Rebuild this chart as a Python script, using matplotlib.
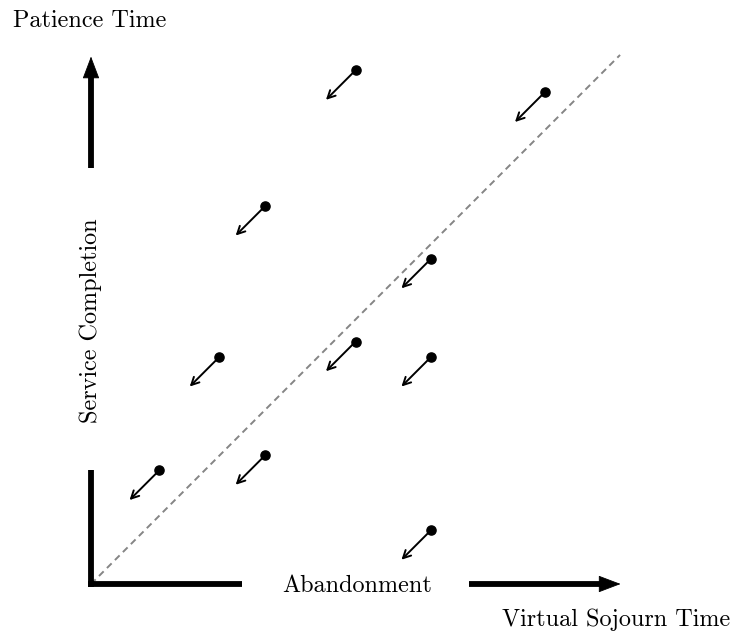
import numpy as np
import matplotlib
matplotlib.use("Agg")
import matplotlib.pyplot as plt

plt.rcParams['font.family'] = ['cmr10', 'DejaVu Serif']
plt.rcParams['axes.formatter.use_mathtext'] = True

# customer states (virtual sojourn time, patience time)
sojourn = [5.01, 8.59, 3.30, 6.44, 2.43, 5.01, 6.44, 1.29, 3.30, 6.44]
patience = [9.73, 9.31, 7.16, 6.16, 4.30, 4.59, 4.30, 2.15, 2.44, 1.02]
step = 0.56  # both times drift down at unit rate

fs = 17.4
unit = 52.8  # px per data unit
W, H = 740, 635
ox, oy = 91, 584

fig = plt.figure(figsize=(W / 100, H / 100), dpi=100)
ax = fig.add_axes([0, 0, 1, 1])
ax.set_xlim(-ox / unit, (W - ox) / unit)
ax.set_ylim(-(H - oy) / unit, oy / unit)
ax.axis('off')

# diagonal boundary
ax.plot([0, 10.02], [0, 10.02], color='#858585', lw=1.4, ls=(0, (3.4, 2.4)), zorder=1)

# thick axes, broken by labels
head = dict(arrowstyle='-|>,head_length=1.45,head_width=0.55', lw=0.6, color='k',
            shrinkA=0, shrinkB=0)
ax.plot([0, 0], [-0.05, 2.15], color='k', lw=4.2, solid_capstyle='butt')
ax.plot([-0.05, 2.86], [0, 0], color='k', lw=4.2, solid_capstyle='butt')
ax.plot([0, 0], [7.88, 9.7], color='k', lw=4.2, solid_capstyle='butt')
ax.plot([7.16, 9.75], [0, 0], color='k', lw=4.2, solid_capstyle='butt')
ax.annotate('', xy=(0, 9.99), xytext=(0, 8.5), arrowprops=head)
ax.annotate('', xy=(10.03, 0), xytext=(8.5, 0), arrowprops=head)

# points and their trajectories
small = dict(arrowstyle='->,head_length=0.55,head_width=0.28', lw=1.4, color='k',
             shrinkA=0, shrinkB=0)
for x, y in zip(sojourn, patience):
    ax.annotate('', xy=(x - step, y - step), xytext=(x, y), arrowprops=small)
ax.plot(sojourn, patience, 'o', color='k', ms=6.6, zorder=3)

ax.text(-0.02, 10.555, 'Patience Time', fontsize=fs, ha='center', va='baseline')
ax.text(12.10, -0.795, 'Virtual Sojourn Time', fontsize=fs, ha='right', va='baseline')
ax.text(5.04, -0.157, 'Abandonment', fontsize=fs, ha='center', va='baseline')
ax.text(0.0, 4.98, 'Service Completion', fontsize=fs, ha='center', va='center',
        rotation=90)

fig.savefig('out.png', dpi=100)
